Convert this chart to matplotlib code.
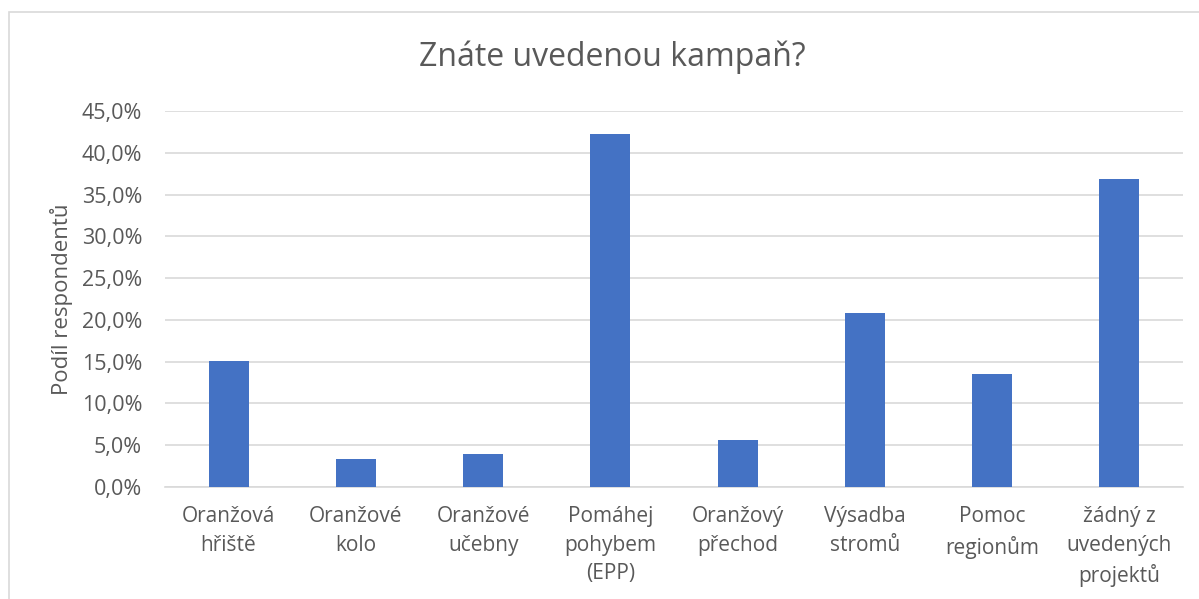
import matplotlib
matplotlib.use("Agg")
import matplotlib.pyplot as plt
from matplotlib.ticker import FuncFormatter, MultipleLocator
from matplotlib.patches import Rectangle

categories = ["Oranžová\nhřiště", "Oranžové\nkolo", "Oranžové\nučebny", "Pomáhej\npohybem\n(EPP)",
              "Oranžový\npřechod", "Výsadba\nstromů", "Pomoc\nregionům", "žádný z\nuvedených\nprojektů"]
values = [15.1, 3.3, 4.0, 42.3, 5.6, 20.8, 13.5, 36.9]
title = "Znáte uvedenou kampaň?"
ylabel = "Podíl respondentů"

plt.rcParams['font.family'] = ['Open Sans', 'DejaVu Sans']
text_color = "#595959"

fig = plt.figure(figsize=(11.99, 5.99), dpi=100)
ax = fig.add_axes([0.1376, 0.187, 0.8491, 0.6277])

x = list(range(len(categories)))
ax.bar(x, values, width=0.314, color="#4472C4", zorder=3)
ax.set_xlim(-0.5, len(categories) - 0.5)
ax.set_ylim(0, 45)
ax.yaxis.set_major_locator(MultipleLocator(5))
ax.yaxis.set_major_formatter(FuncFormatter(lambda v, p: f"{v:.1f}%".replace(".", ",")))
ax.grid(axis="y", color="#d9d9d9", linewidth=1.2, zorder=0)
ax.set_axisbelow(True)
for s in ["top", "right", "left"]:
    ax.spines[s].set_visible(False)
ax.spines["bottom"].set_color("#d9d9d9")
ax.spines["bottom"].set_linewidth(1.2)
ax.tick_params(axis="both", length=0, colors=text_color)
ax.tick_params(axis="y", pad=16.5, labelsize=15.5)
ax.tick_params(axis="x", pad=14, labelsize=15)
ax.set_xticks(x)
ax.set_xticklabels(categories, linespacing=1.45)
ax.set_ylabel(ylabel, color=text_color, fontsize=16, labelpad=6)

fig.text(0.511, 0.905, title, ha="center", va="center", fontsize=23, color=text_color)

fig.patches.append(Rectangle((9/1199, -0.05), 1.2, 1 - 12/599 + 0.05, transform=fig.transFigure,
                             fill=False, edgecolor="#d9d9d9", linewidth=1.2))

fig.savefig("out.png", dpi=100)
